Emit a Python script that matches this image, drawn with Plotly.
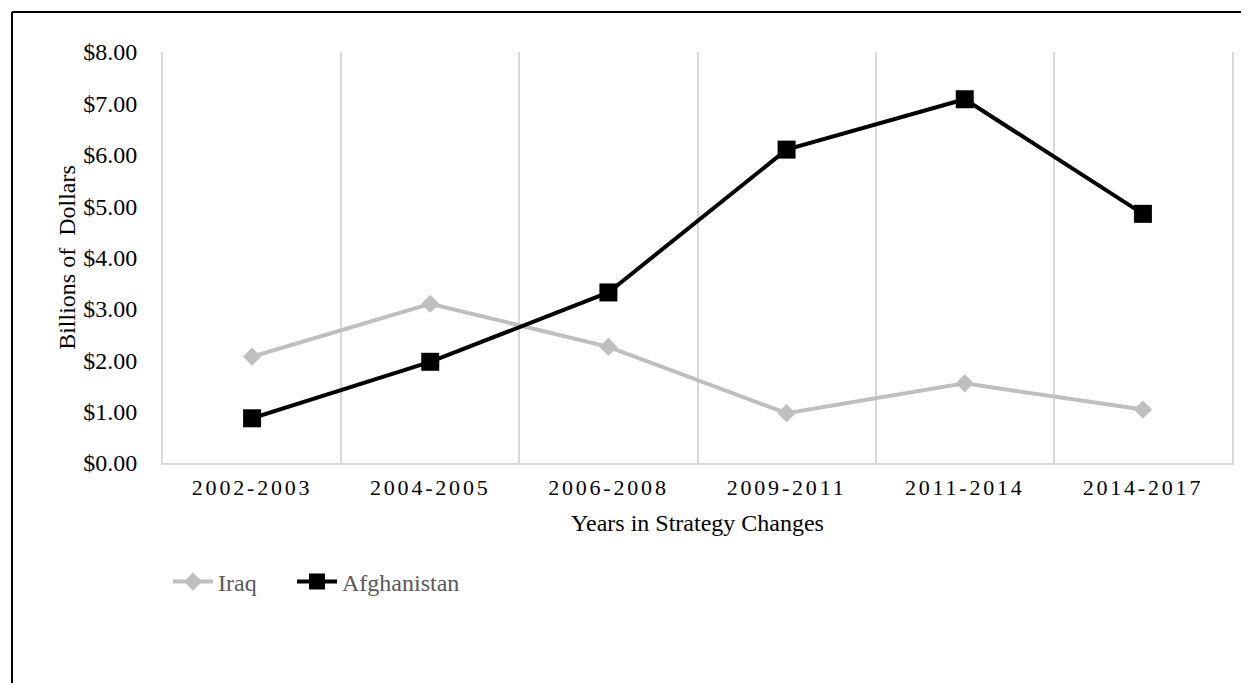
import plotly.graph_objects as go

categories = ["2002-2003", "2004-2005", "2006-2008", "2009-2011", "2011-2014", "2014-2017"]
iraq = [2.07, 3.10, 2.26, 0.97, 1.55, 1.04]
afghanistan = [0.87, 1.97, 3.32, 6.10, 7.08, 4.85]
y_ticks = [0, 1, 2, 3, 4, 5, 6, 7, 8]
y_tick_labels = ["$%.2f" % v for v in y_ticks]

FONT = "Liberation Serif, Times New Roman, serif"

fig = go.Figure()
fig.add_trace(go.Scatter(
    x=categories, y=iraq, name="Iraq", mode="lines+markers",
    line=dict(color="#bfbfbf", width=4),
    marker=dict(symbol="diamond", size=14, color="#bfbfbf"),
    legend="legend",
))
fig.add_trace(go.Scatter(
    x=categories, y=afghanistan, name="Afghanistan", mode="lines+markers",
    line=dict(color="#000000", width=4),
    marker=dict(symbol="square", size=18, color="#000000"),
    legend="legend2",
))

OFF = 8  # page body margin
W, H = 1249 - OFF, 683 - OFF
L, R, T, B = 163 - OFF, 1232 - OFF, 52 - OFF, 463 - OFF
pw, ph = R - L, B - T

def px_x(p):
    return (p - OFF - L) / pw

def px_y(p):
    return (B - (p - OFF)) / ph

legend_style = dict(orientation="h", xanchor="left", yanchor="middle",
                    font=dict(family=FONT, size=24, color="#595959"),
                    itemwidth=40, bgcolor="rgba(0,0,0,0)")

fig.update_layout(
    width=W, height=H,
    margin=dict(l=L, r=W - R, t=T, b=H - B, pad=0),
    paper_bgcolor="white", plot_bgcolor="white",
    font=dict(family=FONT, size=22, color="#000000"),
    showlegend=True,
    legend=dict(x=px_x(168), y=px_y(582), **legend_style),
    legend2=dict(x=px_x(292), y=px_y(582), **legend_style),
    xaxis=dict(
        type="category", range=[-0.5, 5.5],
        tickson="boundaries", showgrid=True, gridcolor="#d9d9d9", gridwidth=2,
        showline=True, linecolor="#d9d9d9", linewidth=2, mirror=False,
        ticks="", ticklabelstandoff=4,
        tickvals=categories,
        ticktext=['<span style="letter-spacing:2.8px">%s</span>' % c for c in categories],
        tickfont=dict(family=FONT, size=22, color="#000000"),
        title=dict(text="Years in Strategy Changes", standoff=15,
                   font=dict(family=FONT, size=24, color="#000000")),
        zeroline=False, fixedrange=True,
    ),
    yaxis=dict(
        range=[0, 8], tickvals=y_ticks, ticktext=y_tick_labels,
        showgrid=False, zeroline=False,
        showline=True, linecolor="#d9d9d9", linewidth=2, mirror=True,
        ticks="", ticklabelstandoff=19,
        tickfont=dict(family=FONT, size=24, color="#000000"),
        title=dict(text="Billions of\u00a0 Dollars", standoff=1,
                   font=dict(family=FONT, size=24, color="#000000")),
        fixedrange=True,
    ),
    shapes=[
        dict(type="line", xref="paper", yref="paper",
             x0=px_x(12), x1=px_x(12), y0=px_y(12), y1=px_y(700),
             line=dict(color="#000000", width=2)),
        dict(type="line", xref="paper", yref="paper",
             x0=px_x(12), x1=px_x(1260), y0=px_y(12), y1=px_y(12),
             line=dict(color="#000000", width=2)),
    ],
)

fig.write_html("out.html")
